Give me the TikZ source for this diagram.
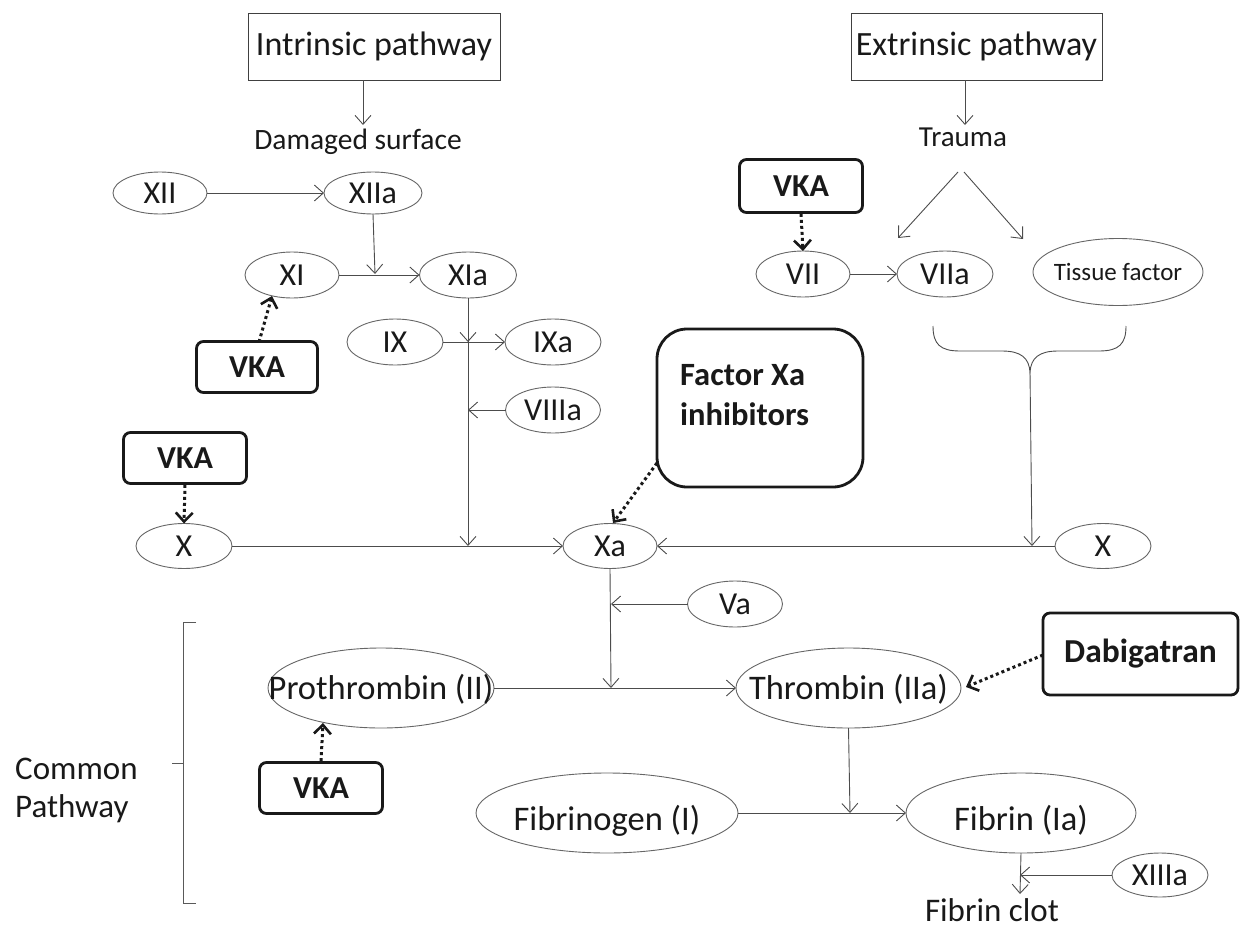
\documentclass[tikz,border=0pt]{standalone}
\usepackage{fontspec}
\setmainfont{Carlito}
\usetikzlibrary{shapes.geometric,arrows.meta,calc}
\newcommand{\ctext}[2][0.32em]{\smash{\makebox[0pt]{\raisebox{-#1}{#2}}}}
\begin{document}
\begin{tikzpicture}[x=1pt,y=-1pt,
  txt/.style={text=black!90, inner sep=0pt},
  el/.style={ellipse, draw=black!60, line width=0.9pt, inner sep=0pt, outer sep=0pt, text=black!90, font=\fontsize{32}{38}\selectfont},
  pbox/.style={rectangle, draw=black!75, line width=0.9pt, inner sep=0pt, text=black!90, font=\fontsize{34}{40}\selectfont},
  drug/.style={rectangle, rounded corners=7pt, draw=black!90, line width=2.8pt, inner sep=0pt, font=\bfseries\fontsize{32}{38}\selectfont, text=black!90},
  ln/.style={draw=black!70, line width=0.9pt},
  arr/.style={ln, -{Straight Barb[length=9pt,width=16pt]}},
  inh/.style={draw=black!90, line width=3pt, dash pattern=on 3pt off 3pt, -{Straight Barb[length=9pt,width=17pt,line width=2.6pt]}},
]
\useasboundingbox (0,0) rectangle (1243,929);

% pathway boxes
\node[pbox, minimum width=252pt, minimum height=67pt] (intr) at (374,46.5) {Intrinsic pathway};
\node[pbox, minimum width=251pt, minimum height=67pt] (extr) at (976.5,46.5) {Extrinsic pathway};
\node[txt, font=\fontsize{29.5}{34}\selectfont] (dmg) at (358,142) {Damaged surface};
\node[txt, font=\fontsize{29}{34}\selectfont] (trauma) at (963,137) {Trauma};

% intrinsic factors
\node[el, minimum width=94pt, minimum height=42pt] (XII) at (160,193) {\ctext{XII}};
\node[el, minimum width=98pt, minimum height=42pt] (XIIa) at (373,193) {\ctext{XIIa}};
\node[el, minimum width=94pt, minimum height=46pt] (XI) at (292,275) {\ctext{XI}};
\node[el, minimum width=97pt, minimum height=46pt] (XIa) at (468,275) {\ctext{XIa}};
\node[el, minimum width=96pt, minimum height=46pt] (IX) at (395,342) {\ctext{IX}};
\node[el, minimum width=96pt, minimum height=46pt] (IXa) at (553,342) {\ctext{IXa}};
\node[el, minimum width=95pt, minimum height=46pt] (VIIIa) at (553,410) {\ctext{VIIIa}};

% extrinsic factors
\node[el, minimum width=94pt, minimum height=46pt] (VII) at (803,274) {\ctext{VII}};
\node[el, minimum width=96pt, minimum height=46pt] (VIIa) at (945,274) {\ctext{VIIa}};
\node[el, minimum width=170pt, minimum height=67pt, font=\fontsize{25}{30}\selectfont] (TF) at (1118,272) {\ctext{Tissue factor}};

% X level
\node[el, minimum width=96pt, minimum height=45pt] (Xl) at (184,546) {\ctext{X}};
\node[el, minimum width=94pt, minimum height=45pt] (Xa) at (610,546) {\ctext{Xa}};
\node[el, minimum width=96pt, minimum height=45pt] (Xr) at (1103,546) {\ctext{X}};
\node[el, minimum width=95pt, minimum height=46pt] (Va) at (735,604) {\ctext{Va}};

% common pathway
\node[el, minimum width=226pt, minimum height=80pt, font=\fontsize{34.5}{40}\selectfont] (Proth) at (381,688) {\ctext{Prothrombin (II)}};
\node[el, minimum width=225pt, minimum height=80pt, font=\fontsize{34.5}{40}\selectfont] (Thromb) at (848.5,688) {\ctext{Thrombin (IIa)}};
\node[el, minimum width=262pt, minimum height=80pt, font=\fontsize{34.5}{40}\selectfont] (Fgen) at (607,813) {\ctext[0.5em]{Fibrinogen (I)}};
\node[el, minimum width=230pt, minimum height=80pt, font=\fontsize{34.5}{40}\selectfont] (Fib) at (1021,813) {\ctext[0.5em]{Fibrin (Ia)}};
\node[el, minimum width=96pt, minimum height=44pt] (XIIIa) at (1160,875) {\ctext{XIIIa}};
\node[txt, font=\fontsize{33}{40}\selectfont] (clot) at (992,910) {Fibrin clot};
\node[txt, font=\fontsize{33}{40}\selectfont, align=left, anchor=west] (common) at (15,790) {Common\\[-2pt]Pathway};

% drugs
\node[drug, minimum width=121pt, minimum height=51pt] (vka1) at (257,367) {VKA};
\node[drug, minimum width=123pt, minimum height=51pt] (vka2) at (185,458) {VKA};
\node[drug, minimum width=123pt, minimum height=53pt] (vka3) at (801,186) {VKA};
\node[drug, minimum width=123pt, minimum height=51pt] (vka4) at (321,788) {VKA};
\node[drug, rounded corners=30pt, minimum width=206pt, minimum height=158pt] (fxa) at (760,408) {};
\node[txt, font=\bfseries\fontsize{32.5}{40}\selectfont, align=left, anchor=west, text=black!90] (fxaT) at (680,395) {Factor Xa\\inhibitors};
\node[drug, minimum width=195pt, minimum height=82pt, font=\bfseries\fontsize{33.5}{40}\selectfont] (dabi) at (1140.5,654) {Dabigatran};

% helper coordinates
\coordinate (a1) at (363,80);
\coordinate (a2) at (363,125);
\coordinate (e1) at (965,80);
\coordinate (e2) at (965,125);
\coordinate (t0l) at (958,172);
\coordinate (t1) at (898,238);
\coordinate (t0r) at (964,172);
\coordinate (t2) at (1023,239);
\coordinate (j1) at (375,274);
\coordinate (j2) at (468,546);
\coordinate (j3) at (468,342);
\coordinate (j4) at (468,410);
\coordinate (k1) at (259,342);
\coordinate (k2) at (272,296);
\coordinate (f1) at (657,463);
\coordinate (f2) at (613,523);
\coordinate (cusp) at (1030,372);
\coordinate (m1) at (1032,546);
\coordinate (m2) at (611,688);
\coordinate (m3) at (611,604);
\coordinate (p1) at (323,723);
\coordinate (d1) at (1043,655);
\coordinate (d2) at (966,687);
\coordinate (n1) at (850,813);
\coordinate (n2) at (1020,894);
\coordinate (n3) at (1020,875);

% pathway arrows
\draw[arr] (a1) -- (a2);
\draw[arr] (e1) -- (e2);
\draw[arr] (t0l) -- (t1);
\draw[arr] (t0r) -- (t2);

% intrinsic cascade
\draw[arr] (XII.east) -- (XIIa.west);
\draw[arr] (XIIa.south) -- (j1);
\draw[arr] (XI.east) -- (XIa.west);
\draw[arr] (XIa.south) -- (j2);
\draw[arr] (IX.east) -- (IXa.west);
\draw[arr] (XIa.south) -- (j3);
\draw[arr] (VIIIa.west) -- (j4);

% extrinsic cascade
\draw[arr] (VII.east) -- (VIIa.west);
\draw[ln] (933,326) .. controls (933,344) and (940,351) .. (960,351) -- (1002,351) .. controls (1021,351) and (1029,358) .. (cusp) .. controls (1031,358) and (1039,351) .. (1058,351) -- (1099,351) .. controls (1119,351) and (1126,344) .. (1126,326);
\draw[arr] (cusp) -- (m1);

% X level
\draw[arr] (Xl.east) -- (Xa.west);
\draw[arr] (Xr.west) -- (Xa.east);
\draw[arr] (Xa.south) -- (m2);
\draw[arr] (Va.west) -- (m3);

% common pathway
\draw[arr] (Proth.east) -- (Thromb.west);
\draw[arr] (Thromb.south) -- (n1);
\draw[arr] (Fgen.east) -- (Fib.west);
\draw[arr] (Fib.south) -- (n2);
\draw[arr] (XIIIa.west) -- (n3);

% bracket
\draw[ln, draw=black!65] (196,622) -- (183,622) -- (183,903) -- (196,903);
\draw[ln, draw=black!65] (183,763) -- (172,763);

% inhibitor arrows
\draw[inh] (k1) -- (k2);
\draw[inh] (vka2.south) -- (Xl.north);
\draw[inh] (vka3.south) -- (VII.north);
\draw[inh] (vka4.north) -- (p1);
\draw[inh] (f1) -- (f2);
\draw[inh] (d1) -- (d2);
\end{tikzpicture}
\end{document}
